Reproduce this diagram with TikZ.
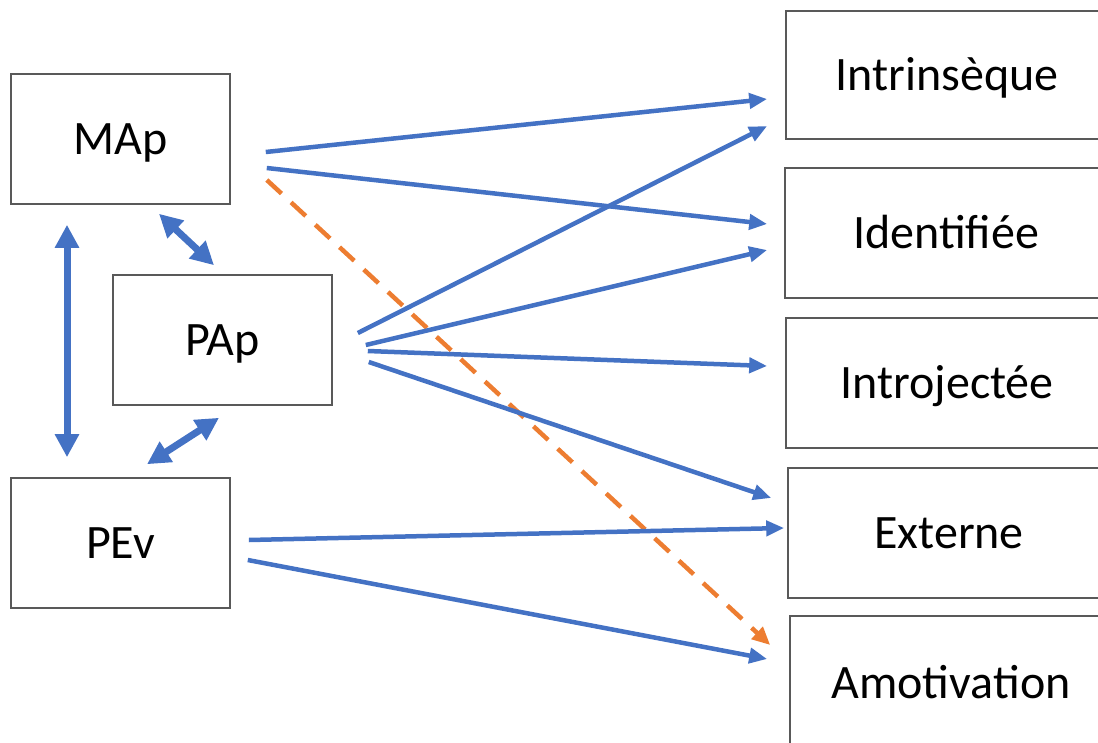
\documentclass[tikz,border=0pt]{standalone}
\usepackage{fontspec}
\setmainfont{Carlito}
\usetikzlibrary{arrows.meta,calc}
\definecolor{boxgray}{HTML}{595959}
\definecolor{linkblue}{HTML}{4472C4}
\definecolor{linkorange}{HTML}{ED7D31}
\tikzset{
  box/.style={draw=boxgray, line width=1.6pt, inner sep=0pt,
    minimum width=219pt, minimum height=130pt,
    text height=31pt, text depth=0pt, font=\fontsize{48}{58}\selectfont},
  typebox/.style={box, minimum width=322pt},
  link/.style={draw=linkblue, line width=4.5pt,
    -{Triangle[length=18pt,width=15pt]}},
  guess/.style={draw=linkorange, line width=4.5pt, dash pattern=on 20pt off 13pt,
    -{Triangle[length=18pt,width=16pt]}},
  mutual/.style={draw=linkblue, line width=7pt,
    {Triangle[length=23pt,width=23pt]}-{Triangle[length=23pt,width=23pt]}}
}

\begin{document}
\begin{tikzpicture}[x=1pt, y=-1pt]
      \useasboundingbox (0, 0) rectangle (1098, 742);

      \node[box] (map) at (120.5, 139) {MAp};
      \node[box] (pap) at (222.5, 340) {PAp};
      \node[box] (pev) at (120.5, 543) {PEv};

      \node[typebox, minimum height=128pt] (intr) at (947, 75) {Intrinsèque};
      \node[typebox] (iden) at (946, 233) {Identifiée};
      \node[typebox] (intro) at (947, 383) {Introjectée};
      \node[typebox] (ext) at (949, 533) {Externe};
      \node[typebox, minimum height=134pt] (amot) at (951, 683) {Amotivation};

      \draw[link] ($(map.east)+(35, 13)$) -- ($(intr.west)+(-18, 24)$);
      \draw[link] ($(map.east)+(36, 29)$) -- ($(iden.west)+(-17, -9)$);
      \draw[guess] ($(map.east)+(36, 41)$) -- ($(amot.west)+(-19, -38)$);

      \draw[link] ($(pap.east)+(25, -7)$) -- ($(intr.west)+(-18, 51)$);
      \draw[link] ($(pap.east)+(33, 5)$) -- ($(iden.west)+(-17, 17)$);
      \draw[link] ($(pap.east)+(35, 11)$) -- ($(intro.west)+(-18, -17)$);
      \draw[link] ($(pap.east)+(36, 22)$) -- ($(ext.west)+(-16, -35)$);

      \draw[link] ($(pev.east)+(18, -3)$) -- ($(ext.west)+(-3, -5)$);
      \draw[link] ($(pev.east)+(17, 17)$) -- ($(amot.west)+(-22, -24)$);

      \draw[mutual] ($(map.south)+(-53.5, 20)$) -- ($(pev.north)+(-53.5, -20)$);
      \draw[mutual] ($(map.south)+(38.5, 9)$) -- ($(pap.north)+(-8.5, -9)$);
      \draw[mutual] ($(pap.south)+(-3.5, 12)$) -- ($(pev.north)+(26.5, -13)$);
    \end{tikzpicture}
\end{document}
